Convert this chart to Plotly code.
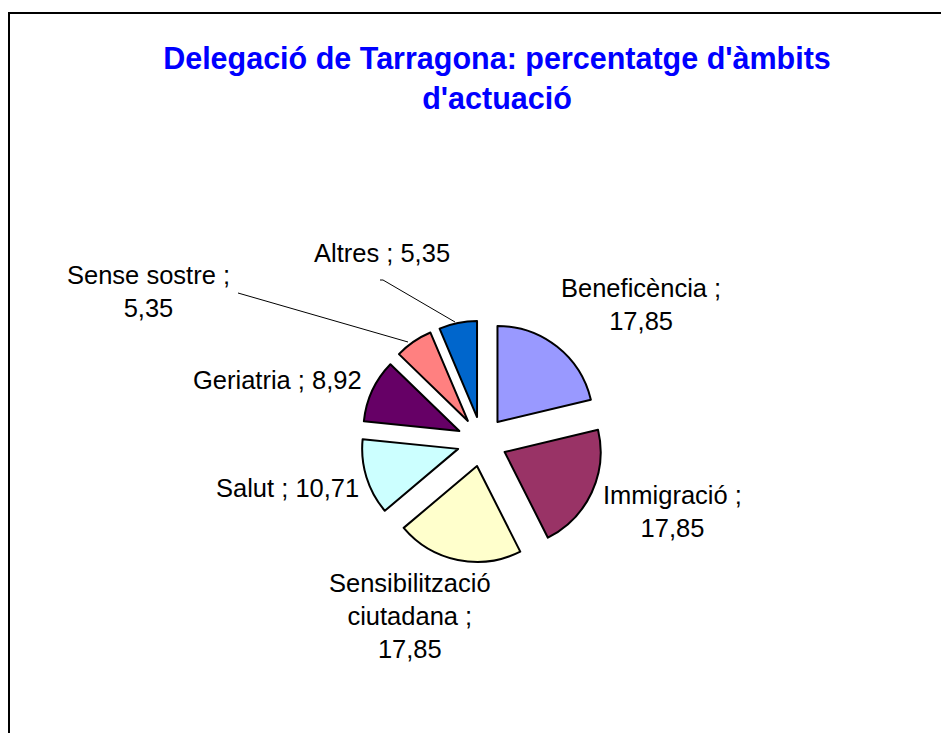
import plotly.graph_objects as go

# Data
categories = ["Beneficència", "Immigració", "Sensibilització ciutadana", "Salut",
              "Geriatria", "Sense sostre", "Altres"]
values = [17.85, 17.85, 17.85, 10.71, 8.92, 5.35, 5.35]
colors = ["#9999FF", "#993366", "#FFFFCC", "#CCFFFF", "#660066", "#FF8080", "#0066CC"]

# label text (line breaks as in the reference)
label_lines = [
    "{c} ;<br>{v}",
    "{c} ;<br>{v}",
    "Sensibilització<br>ciutadana ;<br>{v}",
    "{c} ; {v}",
    "{c} ; {v}",
    "{c} ;<br>{v}",
    "{c} ; {v}",
]
# label centres in pixels (x, y from top)
label_pos = [(641, 304), (672, 511), (410, 616), (287, 488), (277, 380), (148, 291), (382, 253)]

W, H = 941, 733

def px(x):
    return x / W

def py(y):
    return 1 - y / H

# pie geometry (pixels)
cx, cy, r, pull = 482, 441.5, 96, 0.26
half = r * (1 + pull)

fig = go.Figure(go.Pie(
    labels=categories,
    values=values,
    sort=False,
    direction="clockwise",
    rotation=0,
    pull=[pull] * len(values),
    marker=dict(colors=colors, line=dict(color="black", width=2)),
    textinfo="none",
    hoverinfo="label+value",
    showlegend=False,
    domain=dict(x=[px(cx - half), px(cx + half)], y=[py(cy + half), py(cy - half)]),
))

annotations = []
for cat, val, tmpl, (lx, ly) in zip(categories, values, label_lines, label_pos):
    vtxt = f"{val:.2f}".replace(".", ",")
    annotations.append(dict(
        text=tmpl.format(c=cat, v=vtxt), x=px(lx), y=py(ly), xref="paper", yref="paper",
        xanchor="center", yanchor="middle", showarrow=False, align="center",
        font=dict(family="Liberation Sans, Arial", size=25.5, color="black"),
    ))

shapes = [
    # chart frame
    dict(type="rect", xref="paper", yref="paper", x0=px(9), y0=py(13), x1=1.05, y1=-0.05,
         line=dict(color="black", width=2), fillcolor="rgba(0,0,0,0)"),
    # leader lines
    dict(type="line", xref="paper", yref="paper", x0=px(238), y0=py(293), x1=px(408), y1=py(342),
         line=dict(color="black", width=1)),
    dict(type="line", xref="paper", yref="paper", x0=px(380), y0=py(280), x1=px(383), y1=py(280),
         line=dict(color="black", width=1)),
    dict(type="line", xref="paper", yref="paper", x0=px(383), y0=py(280), x1=px(455), y1=py(322),
         line=dict(color="black", width=1)),
]

fig.update_layout(
    width=W, height=H, autosize=False,
    margin=dict(l=0, r=0, t=0, b=0),
    paper_bgcolor="white", plot_bgcolor="white",
    title=dict(
        text="<b>Delegació de Tarragona: percentatge d'àmbits<br>d'actuació</b>",
        x=px(497), y=py(69), xanchor="center", yanchor="middle",
        xref="paper", yref="paper",
        font=dict(family="Liberation Sans, Arial", size=30.5, color="#0000FF"),
    ),
    annotations=annotations,
    shapes=shapes,
)

fig.write_html("out.html", config={"displayModeBar": False},
               post_script="document.body.style.margin='0';")
